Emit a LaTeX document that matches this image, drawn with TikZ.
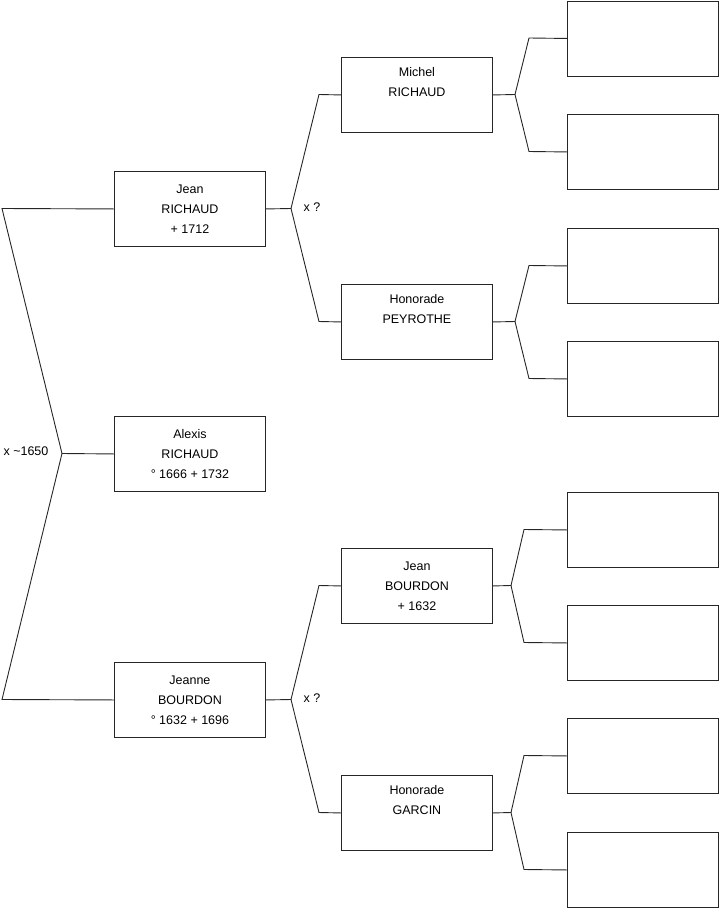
\documentclass[tikz,border=0pt]{standalone}
\usepackage{fontspec}
\setmainfont{Liberation Sans}
\begin{document}
\begin{tikzpicture}[x=1pt,y=-1pt,
  person/.style={draw=black!85, line width=0.9pt, minimum width=151pt, minimum height=75pt, inner sep=0pt, align=center, font=\fontsize{12.5}{20}\selectfont, anchor=north west},
  link/.style={draw=black!85, line width=0.9pt},
  lbl/.style={font=\fontsize{12.5}{15}\selectfont, inner sep=0pt}]
\useasboundingbox (0,0) rectangle (719,908);
% generation 1
\node[person] (jean) at (114,171) {Jean\\RICHAUD\\+ 1712};
\node[person] (alexis) at (114,416) {Alexis\\RICHAUD\\° 1666 + 1732};
\node[person] (jeanne) at (114,662) {Jeanne\\BOURDON\\° 1632 + 1696};
% generation 2
\node[person] (michel) at (341,57) {Michel\\RICHAUD\\\strut};
\node[person] (honp) at (341,284) {Honorade\\PEYROTHE\\\strut};
\node[person] (jeanb) at (341,548) {Jean\\BOURDON\\+ 1632};
\node[person] (hong) at (341,775) {Honorade\\GARCIN\\\strut};
% generation 3
\node[person] (e1) at (567,0.5) {};
\node[person] (e2) at (567,114) {};
\node[person] (e3) at (567,228) {};
\node[person] (e4) at (567,341) {};
\node[person] (e5) at (567,492) {};
\node[person] (e6) at (567,605) {};
\node[person] (e7) at (567,718) {};
\node[person] (e8) at (567,832) {};
% fork coordinates
\coordinate (f0) at (62,453.5);
\coordinate (c0a) at (2,208.5);
\coordinate (c0b) at (2,699.5);
\coordinate (f1) at (291,208.5);
\coordinate (c1a) at (319,94.5);
\coordinate (c1b) at (319,321.5);
\coordinate (f2) at (291,699.5);
\coordinate (c2a) at (319,585.5);
\coordinate (c2b) at (319,812.5);
\coordinate (f3) at (515,94.5);
\coordinate (c3a) at (529,38);
\coordinate (c3b) at (529,151.5);
\coordinate (f4) at (515,321.5);
\coordinate (c4a) at (529,265.5);
\coordinate (c4b) at (529,378.5);
\coordinate (f5) at (511,585.5);
\coordinate (c5a) at (524,529.5);
\coordinate (c5b) at (524,642.5);
\coordinate (f6) at (511,812.5);
\coordinate (c6a) at (524,755.5);
\coordinate (c6b) at (524,869.5);
% connectors
\draw[link] (jean.west) -- (c0a) -- (f0) -- (alexis.west);
\draw[link] (f0) -- (c0b) -- (jeanne.west);
\draw[link] (jean.east) -- (f1) -- (c1a) -- (michel.west);
\draw[link] (f1) -- (c1b) -- (honp.west);
\draw[link] (jeanne.east) -- (f2) -- (c2a) -- (jeanb.west);
\draw[link] (f2) -- (c2b) -- (hong.west);
\draw[link] (michel.east) -- (f3) -- (c3a) -- (e1.west);
\draw[link] (f3) -- (c3b) -- (e2.west);
\draw[link] (honp.east) -- (f4) -- (c4a) -- (e3.west);
\draw[link] (f4) -- (c4b) -- (e4.west);
\draw[link] (jeanb.east) -- (f5) -- (c5a) -- (e5.west);
\draw[link] (f5) -- (c5b) -- (e6.west);
\draw[link] (hong.east) -- (f6) -- (c6a) -- (e7.west);
\draw[link] (f6) -- (c6b) -- (e8.west);
% marriage labels
\node[lbl] (m0) at (26,451) {x \textasciitilde1650};
\node[lbl] (m1) at (312,207) {x ?};
\node[lbl] (m2) at (312,698) {x ?};
\end{tikzpicture}
\end{document}
